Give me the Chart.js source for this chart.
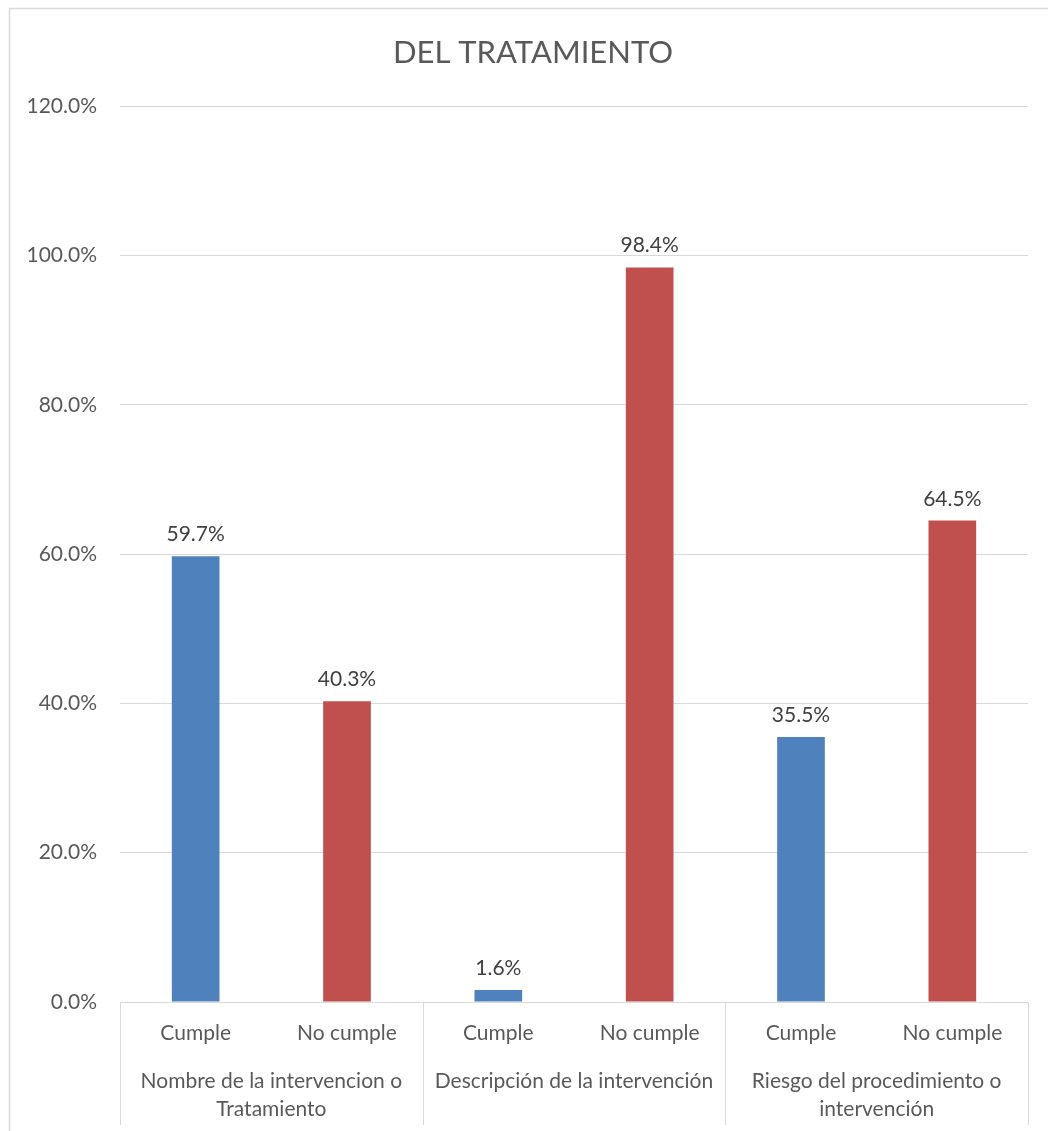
<!DOCTYPE html>
<html>
<head>
<meta charset="utf-8">
<script src="https://cdn.jsdelivr.net/npm/chart.js@4.4.0/dist/chart.umd.min.js"></script>
<style>
html,body{margin:0;padding:0;background:#fff;}
#wrap{position:relative;width:1048px;height:1131px;}
</style>
</head>
<body>
<div id="wrap"><canvas id="c" width="1048" height="1131"></canvas></div>
<script>
const titleText = "DEL TRATAMIENTO";
const subCategories = ["Cumple", "No cumple", "Cumple", "No cumple", "Cumple", "No cumple"];
const groupLabels = [["Nombre de la intervencion o", "Tratamiento"], ["Descripción de la intervención"], ["Riesgo del procedimiento o", "intervención"]];
const values = [59.7, 40.3, 1.6, 98.4, 35.5, 64.5];
const barColors = ["#4F81BD", "#C0504D", "#4F81BD", "#C0504D", "#4F81BD", "#C0504D"];
const yTicks = [0, 20, 40, 60, 80, 100, 120];

const FONT = "Lato, 'Open Sans', sans-serif";
const TXT = "#595959";
const GRID = "#D9D9D9";

const decor = {
  id: 'decor',
  beforeDraw(chart) {
    const ctx = chart.ctx;
    ctx.save();
    ctx.fillStyle = '#fff';
    ctx.fillRect(0, 0, chart.width, chart.height);
    ctx.strokeStyle = GRID;
    ctx.lineWidth = 1.5;
    ctx.strokeRect(9.5, 8.5, chart.width + 20, chart.height + 20);
    ctx.restore();
  },
  afterDraw(chart) {
    const ctx = chart.ctx;
    const x = chart.scales.x;
    const x2 = chart.scales.x2;
    const area = chart.chartArea;
    ctx.save();
    ctx.strokeStyle = GRID;
    ctx.lineWidth = 1;
    ctx.beginPath();
    ctx.moveTo(area.left, Math.round(area.bottom) + 0.5);
    ctx.lineTo(area.right, Math.round(area.bottom) + 0.5);
    ctx.stroke();
    const n = subCategories.length;
    const per = n / groupLabels.length;
    for (let g = 0; g <= groupLabels.length; g++) {
      let px;
      if (g === 0) px = area.left;
      else if (g === groupLabels.length) px = area.right;
      else px = (x.getPixelForValue(g * per - 1) + x.getPixelForValue(g * per)) / 2;
      px = Math.round(px) + 0.5;
      ctx.beginPath();
      ctx.moveTo(px, area.bottom);
      ctx.lineTo(px, x2.bottom - 6);
      ctx.stroke();
    }
    ctx.restore();
  },
  afterDatasetsDraw(chart) {
    const ctx = chart.ctx;
    const meta = chart.getDatasetMeta(0);
    ctx.save();
    ctx.font = "21px " + FONT;
    ctx.fillStyle = "#404040";
    ctx.textAlign = 'center';
    ctx.textBaseline = 'alphabetic';
    meta.data.forEach((bar, i) => {
      ctx.fillText(values[i].toFixed(1) + '%', bar.x, bar.y - 15);
    });
    ctx.restore();
  }
};

new Chart(document.getElementById('c'), {
  type: 'bar',
  data: {
    labels: subCategories,
    datasets: [{
      data: values,
      backgroundColor: barColors,
      borderWidth: 0,
      categoryPercentage: 1.0,
      barPercentage: 0.315
    }]
  },
  options: {
    responsive: false,
    animation: false,
    devicePixelRatio: 1,
    layout: { padding: { left: 18, right: 0, top: 0, bottom: 0 } },
    plugins: {
      legend: { display: false },
      tooltip: { enabled: false },
      title: {
        display: true,
        text: titleText,
        color: TXT,
        font: { family: FONT, size: 31, weight: 'normal', lineHeight: 1.2 },
        padding: { top: 34, bottom: 35 }
      }
    },
    scales: {
      y: {
        min: 0,
        max: 120,
        afterBuildTicks(s) { s.ticks = yTicks.map(v => ({ value: v })); },
        afterFit(s) { s.width = 102; },
        border: { display: false },
        grid: { color: GRID, lineWidth: 1, drawTicks: false },
        ticks: {
          color: TXT,
          padding: 23,
          font: { family: FONT, size: 21 },
          callback: v => v.toFixed(1) + '%'
        }
      },
      yR: {
        position: 'right',
        min: 0,
        max: 120,
        afterFit(s) { s.width = 20; },
        border: { display: false },
        grid: { display: false, drawOnChartArea: false },
        ticks: { display: false }
      },
      x: {
        type: 'category',
        position: 'bottom',
        border: { display: false },
        grid: { display: false, drawTicks: false },
        afterFit(s) { s.height = 60; },
        ticks: {
          color: TXT,
          padding: 19,
          maxRotation: 0,
          autoSkip: false,
          font: { family: FONT, size: 21, lineHeight: 1.2 }
        }
      },
      x2: {
        type: 'category',
        position: 'bottom',
        labels: groupLabels,
        offset: true,
        border: { display: false },
        grid: { display: false, drawTicks: false },
        afterFit(s) { s.height = 69; },
        ticks: {
          color: TXT,
          padding: 5,
          maxRotation: 0,
          autoSkip: false,
          font: { family: FONT, size: 21, lineHeight: '28px' }
        }
      }
    }
  },
  plugins: [decor]
});
</script>
</body>
</html>
